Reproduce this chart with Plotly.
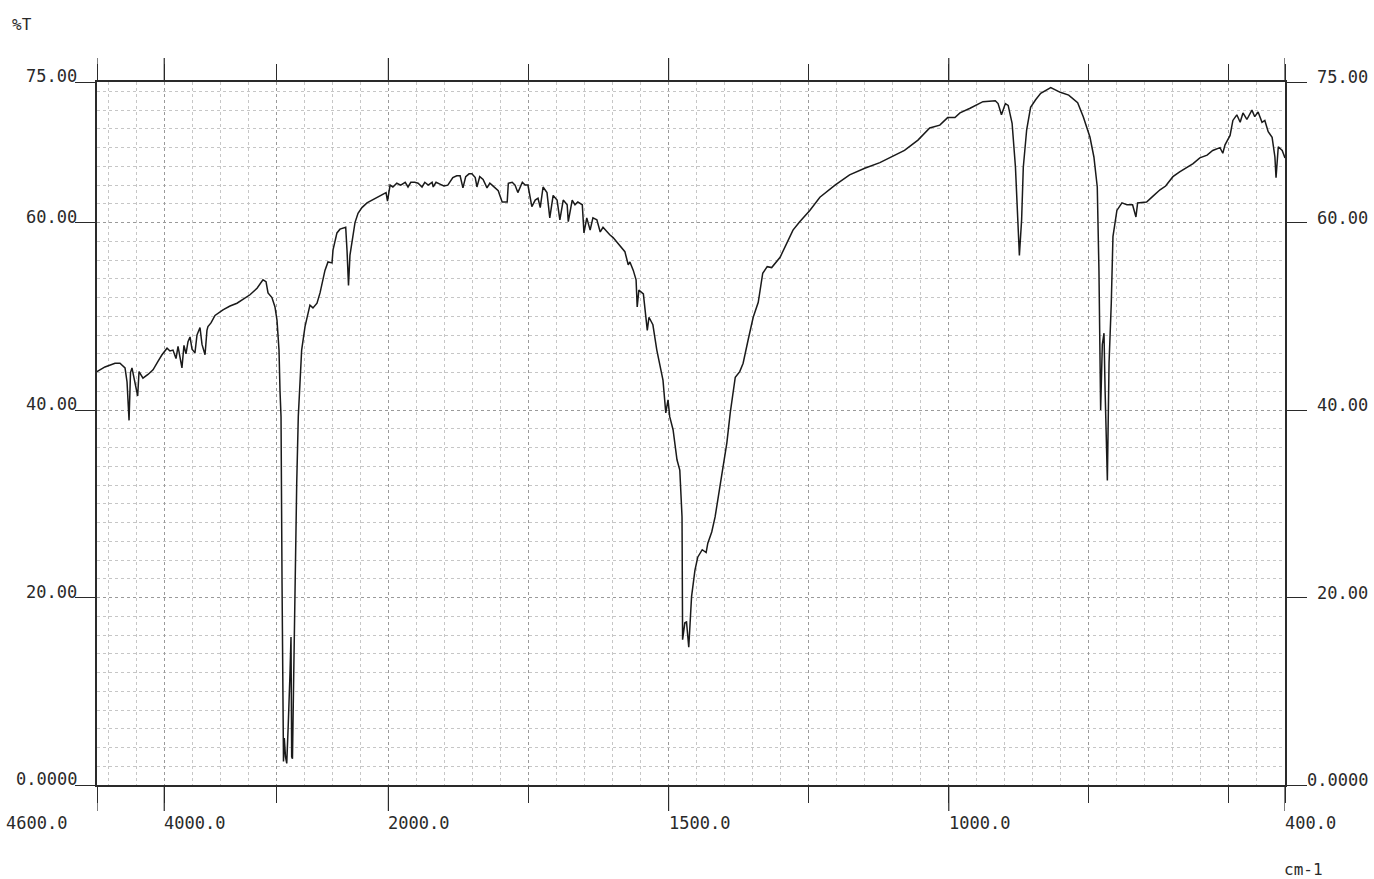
#IR spectrum (%T vs wavenumber) - axis compressed 5x above 2000 cm-1 like the printout

#%%
import numpy as np
import plotly.graph_objects as go

#%%
#wavenumber (cm-1) and transmittance (%T)
wavenumber = [
    4600, 4529, 4439, 4395, 4350, 4332, 4314, 4301, 4288, 4270, 4252, 4237, 4225, 4190, 4145, 4100,
    4056, 4020, 3975, 3949, 3922, 3895, 3877, 3860, 3842, 3824, 3806, 3788, 3770, 3752, 3726, 3708,
    3681, 3663, 3636, 3619, 3610, 3583, 3547, 3476, 3413, 3351, 3288, 3235, 3172, 3119, 3092, 3074,
    3039, 3012, 2994, 2976, 2967, 2958, 2949, 2940, 2936, 2929, 2918, 2907, 2900, 2893, 2878, 2869,
    2863, 2856, 2847, 2834, 2818, 2804, 2789, 2774, 2744, 2700, 2673, 2655, 2637, 2610, 2566, 2539,
    2503, 2494, 2477, 2459, 2432, 2405, 2381, 2369, 2356, 2343, 2325, 2298, 2271, 2236, 2191, 2147,
    2102, 2058, 2021, 2008, 1997, 1992, 1985, 1978, 1970, 1965, 1960, 1953, 1947, 1940, 1935, 1929,
    1922, 1920, 1915, 1908, 1901, 1894, 1885, 1878, 1872, 1867, 1862, 1856, 1851, 1845, 1842, 1837,
    1831, 1824, 1819, 1815, 1810, 1804, 1797, 1788, 1786, 1779, 1774, 1769, 1761, 1756, 1751, 1744,
    1738, 1733, 1729, 1724, 1717, 1712, 1706, 1699, 1694, 1688, 1681, 1679, 1672, 1667, 1662, 1654,
    1651, 1646, 1640, 1635, 1628, 1622, 1617, 1610, 1605, 1599, 1592, 1587, 1578, 1572, 1569, 1563,
    1558, 1556, 1553, 1545, 1542, 1538, 1535, 1528, 1521, 1515, 1510, 1505, 1501, 1498, 1492, 1485,
    1480, 1476, 1475, 1471, 1468, 1464, 1459, 1453, 1448, 1440, 1433, 1430, 1423, 1417, 1408, 1396,
    1390, 1381, 1373, 1367, 1358, 1349, 1340, 1332, 1324, 1316, 1301, 1289, 1278, 1266, 1248, 1230,
    1203, 1177, 1150, 1123, 1096, 1079, 1055, 1034, 1016, 1002, 989, 980, 962, 939, 917, 912,
    906, 899, 894, 887, 881, 877, 874, 870, 867, 861, 854, 845, 836, 818, 801, 786,
    770, 760, 748, 741, 735, 732, 729, 726, 723, 721, 717, 714, 710, 707, 700, 691,
    682, 672, 666, 663, 647, 636, 623, 613, 600, 588, 575, 564, 552, 539, 529, 516,
    511, 507, 498, 493, 486, 480, 475, 468, 459, 454, 448, 441, 436, 430, 423, 418,
    416, 412, 405, 400,
]
transmittance = [
    44.1, 44.6, 45.0, 45.0, 44.5, 43.0, 38.9, 44.0, 44.5, 43.5, 42.5, 41.5, 44.1, 43.4, 43.8, 44.3,
    45.2, 45.9, 46.6, 46.3, 46.4, 45.5, 46.8, 45.6, 44.5, 46.9, 46.0, 47.3, 47.8, 46.5, 46.1, 48.0,
    48.8, 47.0, 45.9, 48.5, 48.9, 49.3, 50.1, 50.7, 51.1, 51.4, 51.9, 52.3, 53.0, 53.9, 53.7, 52.5,
    52.0, 51.0, 49.6, 46.4, 42.0, 39.3, 21.5, 3.7, 2.5, 5.0, 3.0, 2.3, 4.0, 6.6, 11.9, 15.8,
    3.0, 2.8, 10.0, 21.5, 32.2, 39.3, 43.5, 46.4, 48.9, 51.2, 50.9, 51.2, 51.4, 52.5, 54.9, 55.8,
    55.7, 57.1, 58.0, 58.9, 59.3, 59.4, 59.5, 57.0, 53.3, 56.5, 58.0, 60.0, 61.0, 61.6, 62.1, 62.4,
    62.7, 63.0, 63.2, 62.3, 64.0, 63.8, 64.2, 64.0, 64.3, 63.8, 64.3, 64.3, 64.2, 63.8, 64.3, 64.0,
    64.3, 63.8, 64.3, 64.1, 63.9, 64.0, 64.8, 65.0, 65.0, 63.7, 64.9, 65.2, 65.2, 64.8, 63.8, 64.9,
    64.6, 63.7, 64.2, 64.0, 63.7, 63.4, 62.2, 62.2, 64.2, 64.3, 64.0, 63.2, 64.3, 64.0, 64.0, 61.7,
    62.4, 62.6, 61.6, 63.8, 63.2, 60.5, 62.9, 62.4, 60.3, 62.4, 61.9, 60.1, 62.4, 61.9, 62.2, 61.9,
    58.9, 60.5, 59.2, 60.5, 60.3, 59.0, 59.5, 59.0, 58.7, 58.4, 57.9, 57.6, 56.9, 55.5, 55.8, 54.9,
    53.9, 51.0, 52.8, 52.4, 50.5, 48.5, 49.9, 49.1, 46.4, 44.5, 43.2, 39.7, 41.1, 39.3, 37.9, 34.7,
    33.6, 28.6, 15.5, 17.3, 17.4, 14.7, 20.1, 22.9, 24.3, 25.1, 24.8, 25.8, 27.0, 28.6, 32.2, 36.5,
    39.7, 43.5, 44.1, 45.0, 47.5, 49.9, 51.5, 54.6, 55.3, 55.2, 56.3, 57.8, 59.2, 60.1, 61.3, 62.7,
    64.0, 65.1, 65.8, 66.4, 67.2, 67.7, 68.8, 70.1, 70.4, 71.2, 71.2, 71.7, 72.2, 72.9, 73.0, 72.7,
    71.5, 72.7, 72.5, 70.6, 65.9, 60.3, 56.5, 60.3, 65.9, 69.9, 72.3, 73.1, 73.8, 74.4, 73.9, 73.6,
    72.8, 71.3, 69.1, 67.0, 63.8, 54.9, 40.0, 47.0, 48.2, 42.0, 32.5, 45.0, 51.4, 58.5, 61.3, 62.1,
    61.9, 61.9, 60.6, 62.1, 62.2, 62.8, 63.5, 63.9, 64.9, 65.4, 65.9, 66.3, 66.9, 67.2, 67.7, 68.0,
    67.4, 68.3, 69.3, 70.9, 71.5, 70.7, 71.7, 71.0, 72.0, 71.3, 71.8, 70.7, 70.9, 69.7, 69.1, 67.0,
    64.8, 68.1, 67.7, 66.9,
]

#axis ticks
x_major = [4600, 4000, 3000, 2000, 1750, 1500, 1250, 1000, 750, 500, 400]
x_labels = {4600: '4600.0', 4000: '4000.0', 2000: '2000.0', 1500: '1500.0', 1000: '1000.0', 400: '400.0'}
x_minor = [4500, 4250, 3750, 3500, 3250, 2750, 2500, 2250] + [w for w in range(450, 2000, 50) if w % 250 != 0]
y_major = [0, 20, 40, 60, 75]
y_labels = ['0.0000', '20.00', '40.00', '60.00', '75.00']
y_minor = list(range(2, 75, 2))

#%%
#the printout squeezes everything above 2000 cm-1 by a factor of 5
def scale_x(w):
    w = np.asarray(w, dtype=float)
    return np.where(w > 2000, 2000 + (w - 2000) / 5, w)

FONT = 'DejaVu Sans Mono'
INK = '#2a2a2a'
PLOT_H = 703  #plot area height in px, used for the tick extensions

fig = go.Figure()
fig.add_trace(go.Scatter(x=scale_x(wavenumber), y=transmittance, mode='lines',
                         line=dict(color='#1a1a1a', width=1.5), hoverinfo='skip', showlegend=False))

fig.update_xaxes(range=[float(scale_x(4600)), 400], tickvals=scale_x(x_major), showticklabels=False,
                 ticks='outside', ticklen=16, tickwidth=1.2, tickcolor=INK,
                 showline=True, linecolor=INK, linewidth=2, mirror='ticks',
                 showgrid=True, gridcolor='#9a9a9a', griddash='dot', gridwidth=1, zeroline=False,
                 minor=dict(tickvals=scale_x(x_minor), showgrid=True, gridcolor='#c6c6c6', griddash='dot', gridwidth=1))
fig.update_yaxes(range=[0, 75], tickvals=y_major, showticklabels=False,
                 ticks='outside', ticklen=20, tickwidth=1.2, tickcolor=INK,
                 showline=True, linecolor=INK, linewidth=2, mirror='ticks',
                 showgrid=True, gridcolor='#9a9a9a', griddash='dot', gridwidth=1, zeroline=False,
                 minor=dict(tickvals=y_minor, showgrid=True, gridcolor='#c6c6c6', griddash='dot', gridwidth=1))

#longer ticks on the labelled wavenumbers (top and bottom)
for w in x_labels:
    xv = float(scale_x(w))
    fig.add_shape(type='line', xref='x', yref='paper', x0=xv, x1=xv, y0=0, y1=-26 / PLOT_H, line=dict(color=INK, width=1.2))
    fig.add_shape(type='line', xref='x', yref='paper', x0=xv, x1=xv, y0=1, y1=1 + 24 / PLOT_H, line=dict(color=INK, width=1.2))

#tick labels - the printer puts them to the right of the tick, except the first one
for w, txt in x_labels.items():
    first = w == 4600
    fig.add_annotation(x=float(scale_x(w)), xref='x', y=0, yref='paper', text=txt, showarrow=False,
                       xanchor='right' if first else 'left', xshift=-28 if first else -2, yanchor='middle', yshift=-38,
                       font=dict(family=FONT, size=17, color=INK))
for v, txt in zip(y_major, y_labels):
    fig.add_annotation(x=0, xref='paper', y=v, yref='y', text=txt, showarrow=False,
                       xanchor='right', xshift=-18, yanchor='bottom', yshift=-6,
                       font=dict(family=FONT, size=17, color=INK))
    fig.add_annotation(x=1, xref='paper', y=v, yref='y', text=txt, showarrow=False,
                       xanchor='right', xshift=85, yanchor='middle', yshift=5,
                       font=dict(family=FONT, size=17, color=INK))

fig.add_annotation(x=0, xref='paper', y=1, yref='paper', text='%T', showarrow=False,
                   xanchor='center', xshift=-75, yanchor='middle', yshift=58, font=dict(family=FONT, size=16, color=INK))
fig.add_annotation(x=1, xref='paper', y=0, yref='paper', text='cm-1', showarrow=False,
                   xanchor='center', xshift=18, yanchor='middle', yshift=-84, font=dict(family=FONT, size=16, color=INK))

fig.update_layout(width=1374, height=879, margin=dict(l=97, r=89, t=82, b=94),
                  paper_bgcolor='white', plot_bgcolor='white')
#drop the default 8px body margin so the full-size figure fits the window without scrollbars
fig.write_html('out.html', config={'displayModeBar': False},
               post_script="document.body.style.margin='0';document.body.style.overflow='hidden';")
